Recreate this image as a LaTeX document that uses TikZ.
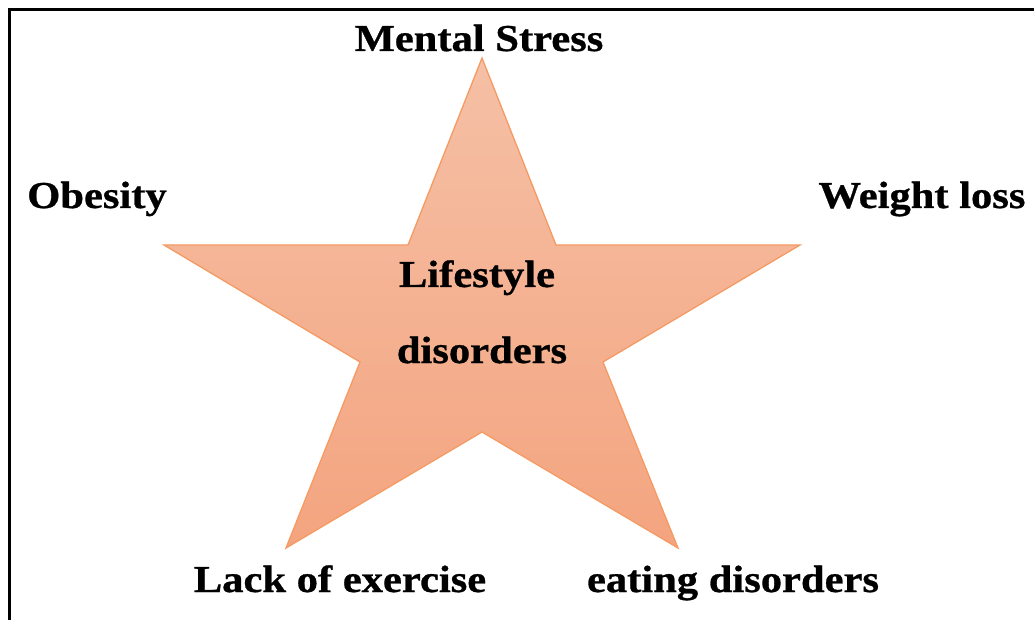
\documentclass[tikz,border=0pt]{standalone}
\usepackage{fontspec}
\setmainfont{Liberation Serif}[FakeStretch=1.12, BoldFeatures={FakeBold=0.8}]
\usepackage{tikz}
\usetikzlibrary{positioning}
\definecolor{startop}{HTML}{F5C0A6}
\definecolor{starbottom}{HTML}{F4A47F}
\definecolor{starline}{HTML}{F49A62}

\begin{document}
\begin{tikzpicture}[x=1pt, y=-1pt,
    lbl/.style={anchor=base, inner sep=0pt, font=\fontsize{38}{44}\selectfont\bfseries}]
    \useasboundingbox (0,0) rectangle (1034,620);
    \clip (0,0) rectangle (1034,620);
    \draw[line width=3pt] (9.5,9.5) rectangle (1050,640);

    % star outline
    \coordinate (tip) at (482,58);
    \coordinate (inr) at (556,245);
    \coordinate (rgt) at (800,245);
    \coordinate (inlr) at (603,362);
    \coordinate (lr) at (678,548);
    \coordinate (inb) at (482,432);
    \coordinate (ll) at (286,548);
    \coordinate (inll) at (360,362);
    \coordinate (lft) at (164,245);
    \coordinate (inl) at (408,245);
    \draw[starline, line width=1.3pt, line join=miter, top color=startop, bottom color=starbottom]
        (tip) -- (inr) -- (rgt) -- (inlr) -- (lr) -- (inb) -- (ll) -- (inll) -- (lft) -- (inl) -- cycle;

    \node[lbl] at (477,287) (life) {Lifestyle};
    \node[lbl] at (482,363) (dis) {disorders};

    \node[lbl] at (479,51) (stress) {Mental Stress};
    \node[lbl] at (97,208) (obesity) {Obesity};
    \node[lbl] at (922,208) (weight) {Weight loss};
    \node[lbl] at (340,592) (exercise) {Lack of exercise};
    \node[lbl] at (733,592) (eating) {eating disorders};
\end{tikzpicture}
\end{document}
